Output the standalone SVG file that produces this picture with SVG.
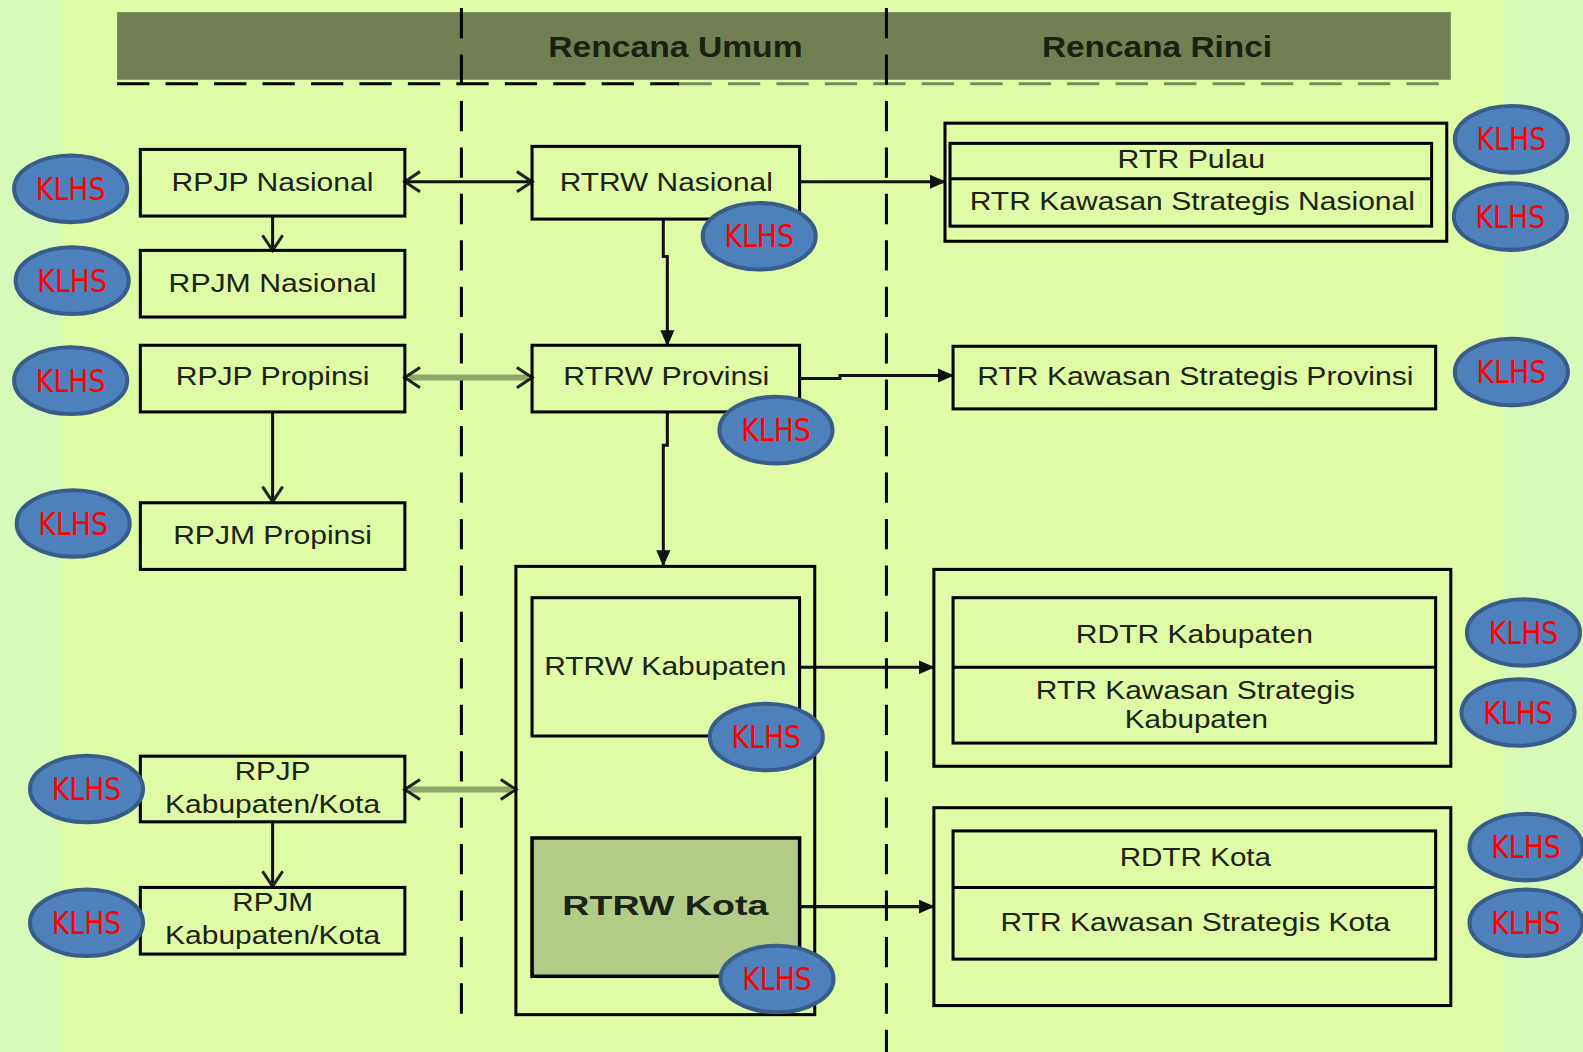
<svg xmlns="http://www.w3.org/2000/svg" width="1583" height="1052" viewBox="0 0 1583 1052">
<defs>
<style>
.box{fill:none;stroke:#000;stroke-width:3}
.lbl{font-family:"Liberation Sans",Arial,sans-serif;font-size:25px;fill:#1c2214;text-anchor:middle}
.hdr{font-family:"Liberation Sans",Arial,sans-serif;font-size:29px;font-weight:bold;fill:#1b2110;text-anchor:middle}
.klhs ellipse{fill:#4f81bd;stroke:#385d8a;stroke-width:4}
.klhs text{font-family:"Liberation Sans Narrow","DejaVu Sans Condensed",sans-serif;font-size:32px;fill:#ff0000;text-anchor:middle}
.conn{fill:none;stroke:#111;stroke-width:3}
.thick{fill:none;stroke:#8ea66a;stroke-width:6}
.vdash{stroke:#000;stroke-width:3;stroke-dasharray:30 16}
</style>
<marker id="open" viewBox="0 0 20 24" refX="17" refY="12" markerWidth="20" markerHeight="24" markerUnits="userSpaceOnUse" orient="auto-start-reverse"><path d="M2,2 L17,12 L2,22" fill="none" stroke="#222" stroke-width="3"/></marker>
<marker id="fill" viewBox="0 0 16 16" refX="15" refY="8" markerWidth="16" markerHeight="16" markerUnits="userSpaceOnUse" orient="auto"><path d="M0,1 L16,8 L0,15 z" fill="#111"/></marker>
</defs>
<g transform="scale(1.0096)">
<g id="background">
<rect x="0" y="0" width="1568" height="1042" fill="#d6fbb9"/>
<rect x="61" y="0" width="1429" height="1042" fill="#e0fba5"/>
<rect x="116" y="12" width="1321" height="67" fill="#717f53"/>
<line x1="116" y1="83" x2="673" y2="83" stroke="#000" stroke-width="3" stroke-dasharray="32 16"/>
<line x1="673" y1="83" x2="1437" y2="83" stroke="#7b8a5c" stroke-width="3" stroke-dasharray="32 16"/>
<line class="vdash" x1="457" y1="8" x2="457" y2="1020"/>
<line class="vdash" x1="878" y1="8" x2="878" y2="1042"/>
<text class="hdr" x="669" y="56" textLength="252" lengthAdjust="spacingAndGlyphs">Rencana Umum</text>
<text class="hdr" x="1146" y="56" textLength="228" lengthAdjust="spacingAndGlyphs">Rencana Rinci</text>
</g>
<g id="connectors">
<line class="conn" x1="401" y1="180" x2="527" y2="180" marker-start="url(#open)" marker-end="url(#open)"/>
<line class="conn" x1="270" y1="214" x2="270" y2="248" marker-end="url(#open)"/>
<line class="conn" x1="792" y1="180" x2="936" y2="180" marker-end="url(#fill)"/>
<path class="conn" d="M657,217 V254 H661 V342" marker-end="url(#fill)"/>
<line class="thick" x1="405" y1="374" x2="523" y2="374"/>
<line class="conn" x1="401" y1="374" x2="527" y2="374" stroke-opacity="0" marker-start="url(#open)" marker-end="url(#open)"/>
<line class="conn" x1="270" y1="408" x2="270" y2="497" marker-end="url(#open)"/>
<path class="conn" d="M792,375 H832 V372 H944" marker-end="url(#fill)"/>
<path class="conn" d="M661,408 V441 H657 V560" marker-end="url(#fill)"/>
<line class="conn" x1="792" y1="661" x2="925" y2="661" marker-end="url(#fill)"/>
<line class="conn" x1="792" y1="898" x2="925" y2="898" marker-end="url(#fill)"/>
<line class="thick" x1="405" y1="782" x2="507" y2="782"/>
<line class="conn" x1="401" y1="782" x2="511" y2="782" stroke-opacity="0" marker-start="url(#open)" marker-end="url(#open)"/>
<line class="conn" x1="270" y1="814" x2="270" y2="878" marker-end="url(#open)"/>
</g>
<g id="rpjp-nasional"><rect class="box" x="139" y="148" width="262" height="66"/><text class="lbl" x="270" y="189" textLength="200" lengthAdjust="spacingAndGlyphs">RPJP Nasional</text></g>
<g id="rpjm-nasional"><rect class="box" x="139" y="248" width="262" height="66"/><text class="lbl" x="270" y="289" textLength="206" lengthAdjust="spacingAndGlyphs">RPJM Nasional</text></g>
<g id="rpjp-propinsi"><rect class="box" x="139" y="342" width="262" height="66"/><text class="lbl" x="270" y="381" textLength="192" lengthAdjust="spacingAndGlyphs">RPJP Propinsi</text></g>
<g id="rpjm-propinsi"><rect class="box" x="139" y="498" width="262" height="66"/><text class="lbl" x="270" y="539" textLength="197" lengthAdjust="spacingAndGlyphs">RPJM Propinsi</text></g>
<g id="rpjp-kab"><rect class="box" x="139" y="749" width="262" height="65"/><text class="lbl" x="270" y="773" textLength="75" lengthAdjust="spacingAndGlyphs">RPJP</text><text class="lbl" x="270" y="805" textLength="213" lengthAdjust="spacingAndGlyphs">Kabupaten/Kota</text></g>
<g id="rpjm-kab"><rect class="box" x="139" y="879" width="262" height="66"/><text class="lbl" x="270" y="902" textLength="80" lengthAdjust="spacingAndGlyphs">RPJM</text><text class="lbl" x="270" y="935" textLength="213" lengthAdjust="spacingAndGlyphs">Kabupaten/Kota</text></g>
<g id="rtrw-nasional"><rect class="box" x="527" y="145" width="265" height="72"/><text class="lbl" x="660" y="189" textLength="211" lengthAdjust="spacingAndGlyphs">RTRW Nasional</text></g>
<g id="rtrw-provinsi"><rect class="box" x="527" y="342" width="265" height="66"/><text class="lbl" x="660" y="381" textLength="204" lengthAdjust="spacingAndGlyphs">RTRW Provinsi</text></g>
<g id="rtrw-kab-kota-group"><rect class="box" x="511" y="561" width="296" height="444"/></g>
<g id="rtrw-kabupaten"><rect class="box" x="527" y="592" width="265" height="137"/><text class="lbl" x="659" y="669" textLength="240" lengthAdjust="spacingAndGlyphs">RTRW Kabupaten</text></g>
<g id="rtrw-kota"><rect x="527" y="830" width="265" height="137" fill="#b2cc87" stroke="#000" stroke-width="3.5"/><text class="lbl" x="659" y="906" textLength="204" lengthAdjust="spacingAndGlyphs" style="font-size:28px;font-weight:bold">RTRW Kota</text></g>
<g id="rtr-nasional-group"><rect class="box" x="936" y="122" width="497" height="117"/><rect class="box" x="941" y="142" width="477" height="82"/><line class="box" x1="941" y1="177" x2="1418" y2="177"/><text class="lbl" x="1180" y="166" textLength="146" lengthAdjust="spacingAndGlyphs">RTR Pulau</text><text class="lbl" x="1181" y="208" textLength="441" lengthAdjust="spacingAndGlyphs">RTR Kawasan Strategis Nasional</text></g>
<g id="rtr-ks-provinsi"><rect class="box" x="944" y="343" width="478" height="62"/><text class="lbl" x="1184" y="381" textLength="432" lengthAdjust="spacingAndGlyphs">RTR Kawasan Strategis Provinsi</text></g>
<g id="rdtr-kabupaten-group"><rect class="box" x="925" y="564" width="512" height="195"/><rect class="box" x="944" y="592" width="478" height="144"/><line class="box" x1="944" y1="661" x2="1422" y2="661"/><text class="lbl" x="1183" y="637" textLength="235" lengthAdjust="spacingAndGlyphs">RDTR Kabupaten</text><text class="lbl" x="1184" y="692" textLength="316" lengthAdjust="spacingAndGlyphs">RTR Kawasan Strategis</text><text class="lbl" x="1185" y="721" textLength="142" lengthAdjust="spacingAndGlyphs">Kabupaten</text></g>
<g id="rdtr-kota-group"><rect class="box" x="925" y="800" width="512" height="196"/><rect class="box" x="944" y="823" width="478" height="127"/><line class="box" x1="944" y1="879" x2="1422" y2="879"/><text class="lbl" x="1184" y="858" textLength="150" lengthAdjust="spacingAndGlyphs">RDTR Kota</text><text class="lbl" x="1184" y="922" textLength="386" lengthAdjust="spacingAndGlyphs">RTR Kawasan Strategis Kota</text></g>
<g id="klhs" class="klhs">
<g id="klhs-1"><ellipse cx="70" cy="187" rx="56" ry="33"/><text x="70" y="198" textLength="69" lengthAdjust="spacingAndGlyphs">KLHS</text></g>
<g id="klhs-2"><ellipse cx="71.5" cy="278" rx="56" ry="33"/><text x="71.5" y="289" textLength="69" lengthAdjust="spacingAndGlyphs">KLHS</text></g>
<g id="klhs-3"><ellipse cx="70" cy="377" rx="56" ry="33"/><text x="70" y="388" textLength="69" lengthAdjust="spacingAndGlyphs">KLHS</text></g>
<g id="klhs-4"><ellipse cx="72.5" cy="518.5" rx="56" ry="33"/><text x="72.5" y="529.5" textLength="69" lengthAdjust="spacingAndGlyphs">KLHS</text></g>
<g id="klhs-5"><ellipse cx="85.7" cy="781.5" rx="56" ry="33"/><text x="85.7" y="792.5" textLength="69" lengthAdjust="spacingAndGlyphs">KLHS</text></g>
<g id="klhs-6"><ellipse cx="85.7" cy="914" rx="56" ry="33"/><text x="85.7" y="925" textLength="69" lengthAdjust="spacingAndGlyphs">KLHS</text></g>
<g id="klhs-7"><ellipse cx="752" cy="234" rx="56" ry="33"/><text x="752" y="245" textLength="69" lengthAdjust="spacingAndGlyphs">KLHS</text></g>
<g id="klhs-8"><ellipse cx="768.6" cy="426" rx="56" ry="33"/><text x="768.6" y="437" textLength="69" lengthAdjust="spacingAndGlyphs">KLHS</text></g>
<g id="klhs-9"><ellipse cx="759" cy="730" rx="56" ry="33"/><text x="759" y="741" textLength="69" lengthAdjust="spacingAndGlyphs">KLHS</text></g>
<g id="klhs-10"><ellipse cx="769.6" cy="969.7" rx="56" ry="33"/><text x="769.6" y="980.7" textLength="69" lengthAdjust="spacingAndGlyphs">KLHS</text></g>
<g id="klhs-11"><ellipse cx="1497" cy="138" rx="56" ry="33"/><text x="1497" y="149" textLength="69" lengthAdjust="spacingAndGlyphs">KLHS</text></g>
<g id="klhs-12"><ellipse cx="1496" cy="214.5" rx="56" ry="33"/><text x="1496" y="225.5" textLength="69" lengthAdjust="spacingAndGlyphs">KLHS</text></g>
<g id="klhs-13"><ellipse cx="1497" cy="368.5" rx="56" ry="33"/><text x="1497" y="379.5" textLength="69" lengthAdjust="spacingAndGlyphs">KLHS</text></g>
<g id="klhs-14"><ellipse cx="1509" cy="626.5" rx="56" ry="33"/><text x="1509" y="637.5" textLength="69" lengthAdjust="spacingAndGlyphs">KLHS</text></g>
<g id="klhs-15"><ellipse cx="1503.6" cy="705.7" rx="56" ry="33"/><text x="1503.6" y="716.7" textLength="69" lengthAdjust="spacingAndGlyphs">KLHS</text></g>
<g id="klhs-16"><ellipse cx="1511.5" cy="839" rx="56" ry="33"/><text x="1511.5" y="850" textLength="69" lengthAdjust="spacingAndGlyphs">KLHS</text></g>
<g id="klhs-17"><ellipse cx="1511.5" cy="914" rx="56" ry="33"/><text x="1511.5" y="925" textLength="69" lengthAdjust="spacingAndGlyphs">KLHS</text></g>
</g>
</g>
</svg>
